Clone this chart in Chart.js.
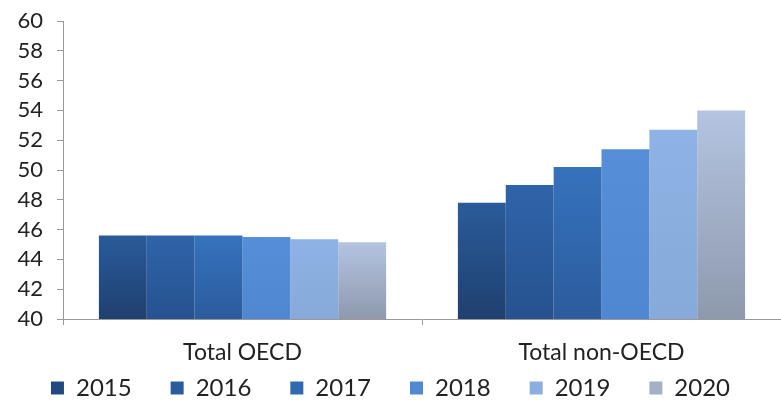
<!DOCTYPE html>
<html><head><meta charset="utf-8">
<script src="https://cdn.jsdelivr.net/npm/chart.js@4"></script>
<style>html,body{margin:0;padding:0;background:#fff;}#wrap{width:781px;height:410px;}</style>
</head><body><div id="wrap"><canvas id="c" width="781" height="410"></canvas></div>
<script>
const categories = ["Total OECD", "Total non-OECD"];
const years = ["2015", "2016", "2017", "2018", "2019", "2020"];
const v2015 = [45.6, 47.8];
const v2016 = [45.6, 49.0];
const v2017 = [45.6, 50.2];
const v2018 = [45.5, 51.4];
const v2019 = [45.35, 52.7];
const v2020 = [45.15, 54.0];
const yTicks = [40, 42, 44, 46, 48, 50, 52, 54, 56, 58, 60];

const seriesValues = [v2015, v2016, v2017, v2018, v2019, v2020];
const topColors = ["#2a5b9a", "#2f64aa", "#3672bd", "#568fd8", "#8db2e4", "#b4c4e1"];
const botColors = ["#1f406f", "#26528f", "#2b5c9d", "#4f87d1", "#86abda", "#8e99ac"];
const legendColors = ["#234a80", "#2a5b9c", "#3169b0", "#5089d3", "#89aedf", "#a3b0c8"];

function grad(i) {
  return function(ctx) {
    const chart = ctx.chart;
    const ca = chart.chartArea;
    if (!ca || ctx.type !== 'data') return legendColors[i];
    const y = chart.scales.y;
    const top = y.getPixelForValue(ctx.parsed.y);
    const base = y.getPixelForValue(40);
    const g = chart.ctx.createLinearGradient(0, top, 0, base);
    g.addColorStop(0, topColors[i]);
    g.addColorStop(1, botColors[i]);
    return g;
  };
}

const datasets = years.map((yr, i) => ({
  label: yr,
  data: seriesValues[i],
  backgroundColor: grad(i),
  borderWidth: 0,
  categoryPercentage: 0.8,
  barPercentage: 1.0
}));

const FONT = "Lato, 'Open Sans', sans-serif";
const LEGEND_H = 43;
const LEGEND_SHIFT = 30;

const legendShift = {
  id: 'legendShift',
  afterLayout(chart) {
    if (chart.legend) { chart.legend.top -= LEGEND_SHIFT; }
  }
};

const chart = new Chart(document.getElementById('c'), {
  type: 'bar',
  data: { labels: categories, datasets },
  plugins: [legendShift],
  options: {
    responsive: false,
    animation: false,
    devicePixelRatio: 1,
    layout: { padding: { top: 0, right: 0, left: 0, bottom: 0 } },
    plugins: {
      tooltip: { enabled: false },
      legend: {
        position: 'bottom',
        labels: {
          color: '#222',
          font: { family: FONT, size: 24 },
          boxWidth: 13,
          boxHeight: 13,
          padding: 39,
          generateLabels: (chart) => years.map((yr, i) => ({
            text: yr, fillStyle: legendColors[i], strokeStyle: legendColors[i],
            lineWidth: 0, hidden: false, datasetIndex: i, fontColor: '#222'
          }))
        }
      }
    },
    scales: {
      x: {
        offset: true,
        afterFit: (s) => { s.height = 48; },
        grid: { offset: true, drawOnChartArea: false, drawTicks: true, tickLength: 6, color: '#999' },
        border: { display: true, color: '#999', width: 1 },
        ticks: { color: '#222', font: { family: FONT, size: 23 }, padding: 14 }
      },
      y: {
        min: 40, max: 60,
        afterBuildTicks: (s) => { s.ticks = yTicks.map(v => ({ value: v })); },
        afterFit: (s) => { s.width = 63; s.paddingTop = 21; s.paddingBottom = 0; },
        grid: { drawOnChartArea: false, drawTicks: true, tickLength: 6, color: '#999' },
        border: { display: true, color: '#999', width: 1 },
        ticks: { color: '#222', font: { family: FONT, size: 22 }, padding: 14, autoSkip: false }
      }
    }
  }
});

const lg = chart.legend;
const origFit = lg.fit.bind(lg);
lg.fit = function() { origFit(); this.height = LEGEND_H; };
chart.update();
</script></body></html>
